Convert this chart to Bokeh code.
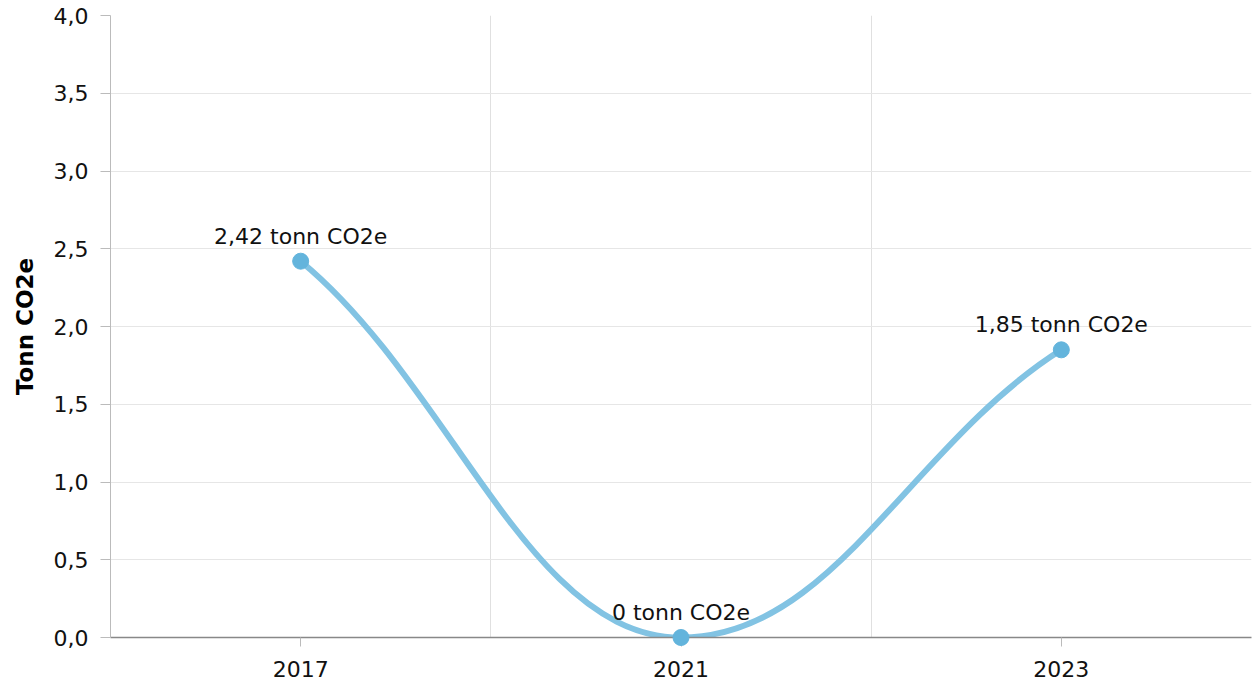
from bokeh.plotting import figure
from bokeh.models import FixedTicker, Range1d, ColumnDataSource
from bokeh.core.properties import value
from bokeh.embed import file_html
from bokeh.resources import INLINE

years = ["2017", "2021", "2023"]
values = [2.42, 0.0, 1.85]
labels = ["2,42 tonn CO2e", "0 tonn CO2e", "1,85 tonn CO2e"]
y_ticks = [0.0, 0.5, 1.0, 1.5, 2.0, 2.5, 3.0, 3.5, 4.0]
y_tick_labels = ["0,0", "0,5", "1,0", "1,5", "2,0", "2,5", "3,0", "3,5", "4,0"]

FONT = "DejaVu Sans"
xs = [i + 0.5 for i in range(len(years))]

p = figure(width=1254, height=685, output_backend="svg", toolbar_location=None,
           x_range=Range1d(0, len(years)), y_range=Range1d(0, 4),
           min_border_left=110, min_border_right=3, min_border_top=15, min_border_bottom=48)
p.outline_line_color = None
p.background_fill_color = "white"


def controls(xs, ys):
    """Spline control points (smoothing like the reference chart)."""
    n = len(xs)
    left = [(xs[i], ys[i]) for i in range(n)]
    right = [(xs[i], ys[i]) for i in range(n)]
    sm, den = 1.5, 2.5
    for i in range(1, n - 1):
        x, y = xs[i], ys[i]
        px, py = xs[i - 1], ys[i - 1]
        nx, ny = xs[i + 1], ys[i + 1]
        lcx = (sm * x + px) / den
        lcy = (sm * y + py) / den
        rcx = (sm * x + nx) / den
        rcy = (sm * y + ny) / den
        if rcx != lcx:
            corr = ((rcy - lcy) * (rcx - x)) / (rcx - lcx) + y - rcy
            lcy += corr
            rcy += corr
        if lcy > py and lcy > y:
            lcy = max(py, y); rcy = 2 * y - lcy
        elif lcy < py and lcy < y:
            lcy = min(py, y); rcy = 2 * y - lcy
        if rcy > y and rcy > ny:
            rcy = max(y, ny); lcy = 2 * y - rcy
        elif rcy < y and rcy < ny:
            rcy = min(y, ny); lcy = 2 * y - rcy
        left[i] = (lcx, lcy)
        right[i] = (rcx, rcy)
    # end points: control pulled part way toward the neighbour
    right[0] = (xs[0] + 0.4 * (xs[1] - xs[0]), ys[0] + (ys[1] - ys[0]) / 3.0)
    left[-1] = (xs[-1] - 0.4 * (xs[-1] - xs[-2]), ys[-1] + (ys[-2] - ys[-1]) / 3.0)
    return left, right


left, right = controls(xs, values)
m = len(xs) - 1
bz = ColumnDataSource(dict(
    x0=xs[:-1], y0=values[:-1], x1=xs[1:], y1=values[1:],
    cx0=[right[i][0] for i in range(m)], cy0=[right[i][1] for i in range(m)],
    cx1=[left[i + 1][0] for i in range(m)], cy1=[left[i + 1][1] for i in range(m)],
))
p.bezier(x0="x0", y0="y0", x1="x1", y1="y1", cx0="cx0", cy0="cy0", cx1="cx1", cy1="cy1",
         source=bz, line_color="#82c3e3", line_width=6)

src = ColumnDataSource(dict(x=xs, y=values, label=labels))
p.scatter(x="x", y="y", source=src, size=16, fill_color="#63b4dc", line_color="#63b4dc",
          level="overlay")

p.text(x="x", y="y", text="label", source=src, text_align="center", text_baseline="alphabetic",
       y_offset=-25, text_font=value(FONT), text_font_size="22px", text_color="#111111")

# x axis
p.xaxis.ticker = FixedTicker(ticks=xs)
p.xaxis.major_label_overrides = {x: y for x, y in zip(xs, years)}
p.xaxis.axis_line_color = "#888888"
p.xaxis.axis_line_width = 1.5
p.xaxis.major_tick_line_color = "#bbbbbb"
p.xaxis.major_tick_out = 9
p.xaxis.major_tick_in = 0
p.xaxis.minor_tick_line_color = None
p.xaxis.major_label_text_font = FONT
p.xaxis.major_label_text_font_size = "22px"
p.xaxis.major_label_text_color = "#111111"
p.xaxis.major_label_standoff = 14
p.xgrid.ticker = FixedTicker(ticks=[0, 1, 2, 3])
p.xgrid.grid_line_color = "#e0e0e0"

# y axis
p.yaxis.ticker = FixedTicker(ticks=y_ticks)
p.yaxis.major_label_overrides = {t: l for t, l in zip(y_ticks, y_tick_labels)}
p.yaxis.axis_line_color = "#bbbbbb"
p.yaxis.major_tick_line_color = "#bbbbbb"
p.yaxis.major_tick_out = 10
p.yaxis.major_tick_in = 0
p.yaxis.minor_tick_line_color = None
p.yaxis.major_label_text_font = FONT
p.yaxis.major_label_text_font_size = "22px"
p.yaxis.major_label_text_color = "#111111"
p.yaxis.major_label_standoff = 12
p.yaxis.axis_label = "Tonn CO2e"
p.yaxis.axis_label_text_font = FONT
p.yaxis.axis_label_text_font_style = "bold"
p.yaxis.axis_label_text_font_size = "23px"
p.yaxis.axis_label_text_color = "#000000"
p.yaxis.axis_label_standoff = 13
p.ygrid.grid_line_color = "#e6e6e6"

open("out.html", "w").write(file_html(p, INLINE))
